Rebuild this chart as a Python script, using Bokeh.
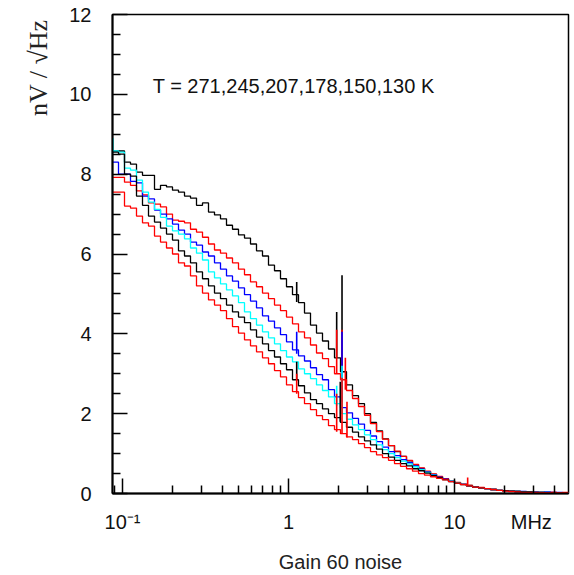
import numpy as np
from bokeh.plotting import figure
from bokeh.models import Range1d, FixedTicker, Label, LogAxis, Title
from bokeh.embed import file_html
from bokeh.resources import INLINE

# ---------------- data ----------------
F_MIN, F_MAX = 0.087, 48.6          # MHz, histogram range
N_BINS = 76                          # log-spaced bins

Y_TICKS = [0, 2, 4, 6, 8, 10, 12]
Y_MINOR = [0.5, 1, 1.5, 2.5, 3, 3.5, 4.5, 5, 5.5, 6.5, 7, 7.5, 8.5, 9, 9.5, 10.5, 11, 11.5]
X_TICKS = [0.1, 1, 10]
X_MINOR = [0.09, 0.2, 0.3, 0.4, 0.5, 0.6, 0.7, 0.8, 0.9,
           2, 3, 4, 5, 6, 7, 8, 9, 20, 30, 40]
X_LABEL_POS = [0.1, 1, 10, 29.0]
X_LABEL_TEXT = ["10\u207b\u00b9", "1", "10", "MHz"]

TEMPS = ["271 K", "245 K", "207 K", "178 K", "150 K", "130 K"]
COLORS = ["#000000", "#ff0000", "#0000ff", "#00ffff", "#000000", "#ff0000"]

noise_271 = [8.58, 8.58, 8.30, 8.25, 8.05, 7.97, 7.97, 7.62, 7.72, 7.68,
             7.60, 7.55, 7.45, 7.40, 7.22, 7.28, 7.05, 6.98, 6.88, 6.72,
             6.62, 6.48, 6.40, 6.25, 6.08, 5.95, 5.72, 5.58, 5.38, 5.18,
             4.98, 4.78, 4.52, 4.22, 4.02, 3.82, 3.62, 3.40, 3.05, 2.72,
             2.45, 2.25, 2.00, 1.78, 1.57, 1.37, 1.20, 1.05, 0.93, 0.82,
             0.72, 0.63, 0.55, 0.48, 0.42, 0.37, 0.32, 0.27, 0.23, 0.20,
             0.17, 0.14, 0.12, 0.10, 0.08, 0.07, 0.06, 0.05, 0.04, 0.04,
             0.03, 0.03, 0.03, 0.02, 0.02, 0.02]
noise_245 = [7.92, 7.92, 7.80, 7.72, 7.58, 7.48, 7.28, 7.25, 7.18, 7.00,
             6.85, 6.82, 6.78, 6.62, 6.55, 6.42, 6.25, 6.10, 6.02, 5.90,
             5.78, 5.62, 5.48, 5.30, 5.18, 5.02, 4.88, 4.72, 4.58, 4.42,
             4.25, 4.05, 3.90, 3.72, 3.52, 3.38, 3.18, 3.00, 2.85, 2.58,
             2.38, 2.18, 1.96, 1.75, 1.55, 1.36, 1.20, 1.06, 0.93, 0.83,
             0.73, 0.64, 0.56, 0.49, 0.43, 0.37, 0.32, 0.28, 0.24, 0.20,
             0.17, 0.15, 0.12, 0.10, 0.08, 0.07, 0.06, 0.05, 0.04, 0.04,
             0.03, 0.03, 0.03, 0.03, 0.02, 0.02]
noise_207 = [8.30, 8.00, 8.00, 7.82, 7.78, 7.45, 7.38, 7.10, 7.00, 6.88,
             6.75, 6.60, 6.50, 6.30, 6.22, 6.05, 5.95, 5.78, 5.62, 5.45,
             5.32, 5.15, 4.98, 4.82, 4.65, 4.45, 4.32, 4.15, 3.98, 3.80,
             3.60, 3.45, 3.32, 3.15, 2.98, 2.85, 2.60, 2.42, 2.15, 2.02,
             1.88, 1.74, 1.58, 1.44, 1.30, 1.16, 1.05, 0.95, 0.85, 0.77,
             0.69, 0.61, 0.54, 0.47, 0.41, 0.36, 0.31, 0.27, 0.23, 0.19,
             0.16, 0.14, 0.12, 0.10, 0.08, 0.07, 0.06, 0.05, 0.05, 0.04,
             0.04, 0.03, 0.04, 0.03, 0.03, 0.02]
noise_178 = [8.58, 8.55, 8.15, 8.10, 7.85, 7.55, 7.30, 7.12, 6.92, 6.70,
             6.58, 6.50, 6.38, 6.15, 6.02, 5.85, 5.55, 5.40, 5.25, 5.10,
             4.95, 4.78, 4.55, 4.38, 4.22, 4.05, 3.90, 3.75, 3.58, 3.42,
             3.30, 3.12, 3.00, 2.88, 2.72, 2.58, 2.42, 2.25, 2.00, 1.86,
             1.72, 1.60, 1.47, 1.35, 1.22, 1.10, 1.00, 0.90, 0.81, 0.74,
             0.67, 0.60, 0.53, 0.46, 0.40, 0.35, 0.31, 0.27, 0.23, 0.19,
             0.16, 0.14, 0.12, 0.10, 0.08, 0.07, 0.06, 0.05, 0.04, 0.04,
             0.03, 0.03, 0.03, 0.02, 0.02, 0.02]
noise_150 = [8.55, 8.50, 8.00, 7.95, 7.45, 7.22, 6.95, 6.80, 6.65, 6.50,
             6.35, 6.08, 5.95, 5.78, 5.55, 5.38, 5.20, 5.02, 4.88, 4.72,
             4.55, 4.42, 4.28, 4.10, 3.92, 3.75, 3.58, 3.42, 3.25, 3.10,
             2.85, 2.70, 2.52, 2.35, 2.25, 2.12, 2.00, 1.90, 1.78, 1.66,
             1.54, 1.42, 1.32, 1.22, 1.11, 1.00, 0.91, 0.83, 0.75, 0.69,
             0.62, 0.57, 0.51, 0.45, 0.40, 0.35, 0.30, 0.26, 0.22, 0.19,
             0.16, 0.14, 0.12, 0.10, 0.08, 0.07, 0.06, 0.05, 0.04, 0.04,
             0.03, 0.03, 0.02, 0.02, 0.02, 0.02]
noise_130 = [7.55, 7.55, 7.20, 7.15, 6.95, 6.78, 6.70, 6.45, 6.30, 6.15,
             6.00, 5.78, 5.70, 5.45, 5.20, 5.02, 4.85, 4.72, 4.58, 4.38,
             4.18, 4.02, 3.85, 3.70, 3.55, 3.40, 3.25, 3.08, 2.92, 2.72,
             2.55, 2.40, 2.25, 2.10, 1.95, 1.85, 1.70, 1.60, 1.50, 1.42,
             1.35, 1.25, 1.15, 1.05, 0.97, 0.90, 0.83, 0.75, 0.68, 0.62,
             0.56, 0.50, 0.46, 0.42, 0.38, 0.34, 0.30, 0.26, 0.22, 0.19,
             0.16, 0.14, 0.12, 0.10, 0.08, 0.06, 0.05, 0.04, 0.03, 0.03,
             0.03, 0.02, 0.02, 0.03, 0.02, 0.03]

# narrow pickup lines: (frequency MHz, level below, peak level)
spikes_271 = [(1.12, 4.80, 5.30), (1.95, 3.40, 4.55), (2.10, 3.10, 5.47)]
spikes_245 = [(1.95, 3.00, 4.10), (2.10, 2.90, 4.10), (2.20, 2.60, 3.40)]
spikes_207 = [(1.12, 3.50, 4.05), (2.10, 2.30, 4.05)]
spikes_178 = [(0.0875, 8.57, 8.90), (2.10, 2.00, 3.20), (1.95, 2.20, 2.70)]
spikes_150 = [(1.12, 2.85, 3.30), (2.05, 1.80, 2.80)]
spikes_130 = [(1.12, 2.50, 3.00), (1.95, 1.55, 2.50), (2.10, 1.50, 2.90),
              (2.25, 1.40, 2.30), (12.0, 0.20, 0.40)]

SERIES = [noise_271, noise_245, noise_207, noise_178, noise_150, noise_130]
SPIKES = [spikes_271, spikes_245, spikes_207, spikes_178, spikes_150, spikes_130]

TITLE_TEXT = "T = 271,245,207,178,150,130 K"
X_TITLE = "Gain 60 noise"
Y_TITLE = "nV / \u221aHz"

# ---------------- figure ----------------
p = figure(width=574, height=575, x_axis_type="log",
           x_range=Range1d(F_MIN, F_MAX), y_range=Range1d(0, 12),
           output_backend="svg", toolbar_location=None,
           min_border_left=112, min_border_right=6,
           min_border_top=14, min_border_bottom=81)
p.background_fill_color = "white"
p.border_fill_color = "white"
p.grid.visible = False
p.outline_line_color = "black"
p.outline_line_width = 1.5

edges = np.geomspace(F_MIN, F_MAX, N_BINS + 1)
for vals, spk, col in zip(SERIES, SPIKES, COLORS):
    p.step(list(edges), list(vals) + [vals[-1]], mode="after",
           line_color=col, line_width=1.3)
    p.segment(x0=[s[0] for s in spk], y0=[s[1] for s in spk],
              x1=[s[0] for s in spk], y1=[s[2] for s in spk],
              line_color=col, line_width=1.6)

# axes: the figure's own axes carry line + ticks
for ax in (p.xaxis[0], p.yaxis[0]):
    ax.axis_line_color = "black"
    ax.axis_line_width = 2
    ax.major_tick_in = 15
    ax.major_tick_out = 0
    ax.minor_tick_in = 8
    ax.minor_tick_out = 0
    ax.major_tick_line_color = "black"
    ax.minor_tick_line_color = "black"
    ax.major_tick_line_width = 1.5
    ax.minor_tick_line_width = 1.5
    ax.major_label_text_font = "Liberation Sans"
    ax.major_label_text_font_size = "20px"
    ax.major_label_text_color = "#111111"

p.yaxis.ticker = FixedTicker(ticks=Y_TICKS, minor_ticks=Y_MINOR)
p.yaxis.major_label_standoff = 21
p.xaxis.ticker = FixedTicker(ticks=X_TICKS, minor_ticks=X_MINOR)
p.xaxis.major_label_overrides = {t: " " for t in X_TICKS}
p.xaxis.major_label_text_font_size = "1px"
p.xaxis.major_label_standoff = 0

# second bottom axis: only the tick labels and the title
lab_axis = LogAxis(ticker=FixedTicker(ticks=X_LABEL_POS, minor_ticks=[]),
                   major_label_overrides=dict(zip(X_LABEL_POS, X_LABEL_TEXT)),
                   axis_line_color=None, major_tick_line_color=None,
                   minor_tick_line_color=None,
                   major_tick_in=0, major_tick_out=0,
                   minor_tick_in=0, minor_tick_out=0,
                   major_label_standoff=13,
                   major_label_text_font="Liberation Sans",
                   major_label_text_font_size="20px",
                   major_label_text_color="#111111",
                   axis_label=X_TITLE, axis_label_standoff=15,
                   axis_label_text_font="Liberation Sans",
                   axis_label_text_font_size="20px",
                   axis_label_text_font_style="normal",
                   axis_label_text_color="#222222")
p.add_layout(lab_axis, "below")

# y title at the top end of the vertical axis
p.add_layout(Title(text=Y_TITLE, align="right", offset=5, standoff=28,
                   text_font="Liberation Serif", text_font_size="26px",
                   text_font_style="normal", text_color="#222222"), "left")

# temperatures annotation
p.add_layout(Label(x=0.152, y=10.22, text=TITLE_TEXT, text_align="left",
                   text_baseline="middle", text_font="Liberation Sans",
                   text_font_size="20px", text_color="#111111"))

open("out.html", "w").write(file_html(p, INLINE))
